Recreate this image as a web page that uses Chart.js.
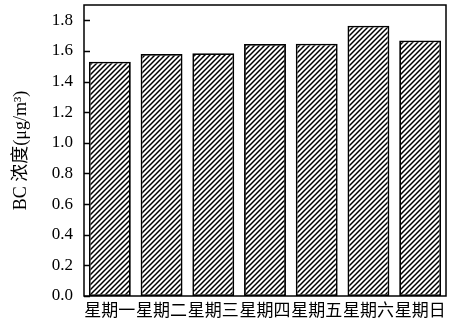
<!DOCTYPE html>
<html>
<head>
<meta charset="utf-8">
<script src="https://cdn.jsdelivr.net/npm/chart.js@4/dist/chart.umd.min.js"></script>
<style>
  html, body { margin: 0; padding: 0; background: #fff; }
  #wrap { width: 450px; height: 327px; position: relative; }
</style>
</head>
<body>
<div id="wrap"><canvas id="c"></canvas></div>
<script>
// Weekly black-carbon concentration
const weekdays = ['星期一', '星期二', '星期三', '星期四', '星期五', '星期六', '星期日'];
const bcValues = [1.53, 1.58, 1.585, 1.645, 1.647, 1.765, 1.668];
const yTicks = [0.0, 0.2, 0.4, 0.6, 0.8, 1.0, 1.2, 1.4, 1.6, 1.8];

const serif = "'Liberation Serif', 'Times New Roman', 'Noto Sans CJK SC', serif";

// Diagonal hatch fill
function hatchPattern() {
  const s = 5;
  const t = document.createElement('canvas');
  t.width = s; t.height = s;
  const g = t.getContext('2d');
  g.fillStyle = '#fff';
  g.fillRect(0, 0, s, s);
  g.strokeStyle = '#000';
  g.lineWidth = 1.5;
  g.beginPath();
  g.moveTo(-1, s + 1); g.lineTo(s + 1, -1);
  g.moveTo(-1, 1); g.lineTo(1, -1);
  g.moveTo(s - 1, s + 1); g.lineTo(s + 1, s - 1);
  g.stroke();
  return document.getElementById('c').getContext('2d').createPattern(t, 'repeat');
}

// Box frame and inward y tick marks
const framePlugin = {
  id: 'frame',
  afterDraw(chart) {
    const { ctx, chartArea: a, scales } = chart;
    ctx.save();
    ctx.strokeStyle = '#000';
    ctx.lineWidth = 1.5;
    ctx.strokeRect(a.left, a.top, a.right - a.left, a.bottom - a.top);
    ctx.beginPath();
    yTicks.forEach(v => {
      const y = Math.round(scales.y.getPixelForValue(v)) + 0.5;
      ctx.moveTo(a.left, y);
      ctx.lineTo(a.left + 6, y);
    });
    ctx.stroke();
    ctx.restore();
  }
};

new Chart(document.getElementById('c'), {
  type: 'bar',
  data: {
    labels: weekdays,
    datasets: [{
      data: bcValues,
      backgroundColor: hatchPattern(),
      borderColor: '#000',
      borderWidth: 1.8,
      borderSkipped: false,
      barPercentage: 0.81,
      categoryPercentage: 1.0
    }]
  },
  options: {
    responsive: true,
    maintainAspectRatio: false,
    animation: false,
    devicePixelRatio: 1,
    layout: { padding: { top: 5, right: 4, left: 0, bottom: 0 } },
    plugins: { legend: { display: false }, tooltip: { enabled: false } },
    scales: {
      x: {
        grid: { display: false, drawTicks: false },
        border: { display: false },
        ticks: {
          color: '#000',
          padding: 5,
          maxRotation: 0,
          autoSkip: false,
          font: { family: serif, size: 17 }
        },
        afterFit(s) { s.height = 31; s.paddingLeft = 0; s.paddingRight = 0; }
      },
      y: {
        min: 0,
        max: 1.9,
        grid: { display: false, drawTicks: false },
        border: { display: false },
        afterBuildTicks(s) { s.ticks = yTicks.map(v => ({ value: v })); },
        ticks: {
          color: '#000',
          padding: 11,
          font: { family: serif, size: 17 },
          callback: v => Number(v).toFixed(1)
        },
        title: {
          display: true,
          text: 'BC 浓度(μg/m³)',
          color: '#000',
          padding: { top: 10, bottom: 0 },
          font: { family: serif, size: 18 }
        },
        afterFit(s) { s.width = 84; s.paddingTop = 0; s.paddingBottom = 0; }
      }
    }
  },
  plugins: [framePlugin]
});
</script>
</body>
</html>
